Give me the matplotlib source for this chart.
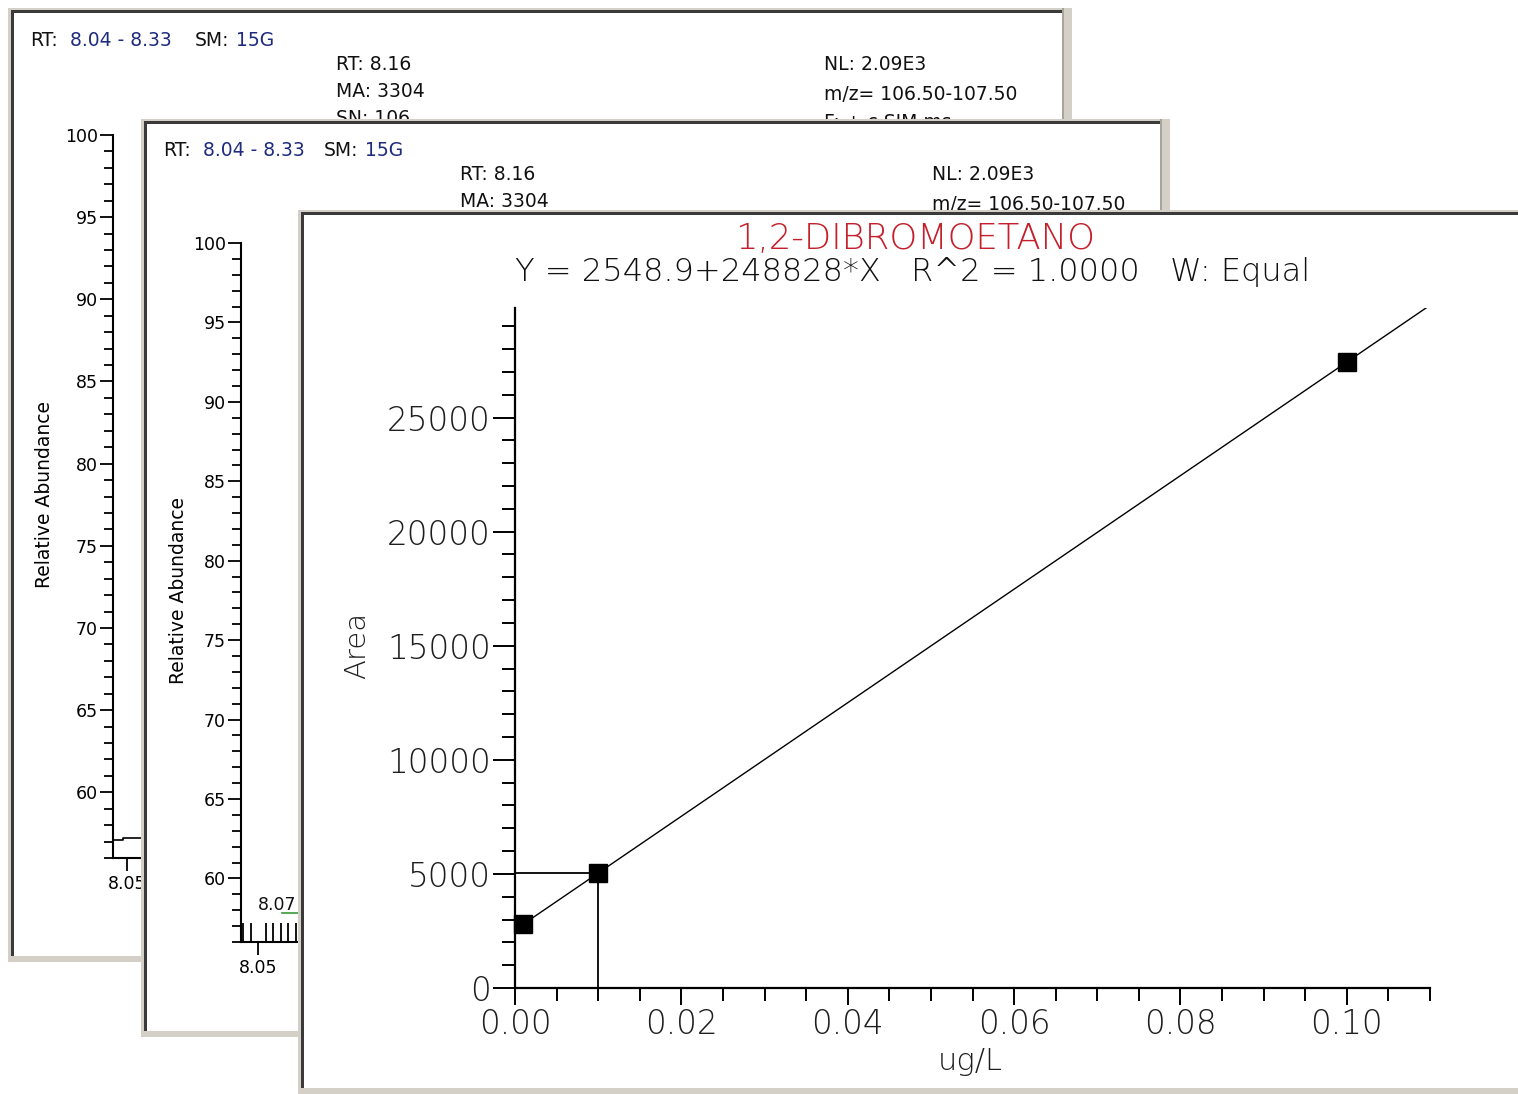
import numpy as np
import matplotlib
matplotlib.use("Agg")
import matplotlib.pyplot as plt
from matplotlib.patches import Rectangle
from matplotlib.ticker import MultipleLocator, FixedLocator

plt.rcParams['font.family'] = 'DejaVu Sans'

# chromatogram header values (same in both SIM windows)
rt_range = "8.04 - 8.33"
smoothing = "15G"
peak_rt = "8.16"
peak_area = "3304"
peak_sn = "106"
norm_level = "2.09E3"
mz_range = "106.50-107.50"
scan_filter = "F: + c SIM ms"

# visible pieces of the chromatogram traces
trace1_rt = [8.040, 8.047, 8.047, 8.065]
trace1_abund = [57.10, 57.10, 57.22, 57.22]
trace2_rt = [8.058, 8.085]
trace2_abund = [57.8, 57.8]
peak2_label = "8.07"
rt_ticks = [8.05]

# calibration curve
compound = "1,2-DIBROMOETANO"
intercept = 2548.9
slope = 248828
r_squared = 1.0000
weighting = "Equal"
conc = [0.001, 0.010, 0.100]
area = [2798, 5037, 27432]

W, H = 1518, 1094
GRAY = '#d4d0c8'
DARK = '#3a3a3a'
BLUE = '#1e2b7e'
RED = '#c41f2b'

fig = plt.figure(figsize=(W / 100, H / 100), dpi=100)
fig.patch.set_facecolor('white')


def px_rect(x0, y0, x1, y1):
    return [x0 / W, 1 - y1 / H, (x1 - x0) / W, (y1 - y0) / H]


def add_window(x0, y0, x1, y1, z, right=True):
    ax = fig.add_axes(px_rect(x0, y0, x1, y1), zorder=z)
    ax.set_xlim(x0, x1)
    ax.set_ylim(y1, y0)
    ax.axis('off')
    ax.add_patch(Rectangle((x0, y0), x1 - x0, y1 - y0, fc='white', ec='none'))
    # 3d style frame: light edge outside, dark line inside on top/left
    ax.add_patch(Rectangle((x0, y0), x1 - x0, 3, fc=GRAY, ec='none'))
    ax.add_patch(Rectangle((x0, y0), 3, y1 - y0, fc=GRAY, ec='none'))
    ax.add_patch(Rectangle((x0 + 3, y0 + 2), x1 - x0 - 3, 3, fc=DARK, ec='none'))
    ax.add_patch(Rectangle((x0 + 3, y0 + 2), 3, y1 - y0 - 2, fc=DARK, ec='none'))
    if right:
        ax.add_patch(Rectangle((x1 - 9, y0), 9, y1 - y0, fc=GRAY, ec='none'))
        ax.add_patch(Rectangle((x1 - 10, y0), 1.5, y1 - y0, fc='#a8a49c', ec='none'))
    ax.add_patch(Rectangle((x0, y1 - 6), x1 - x0, 6, fc=GRAY, ec='none'))
    return ax


def header(ax, x_rt, x_sm, y, x_left2, x_right2, y2):
    kw = dict(va='center', fontsize=13.5)
    ax.text(x_rt, y, "RT:", color='#111111', **kw)
    ax.text(x_rt + 40, y, rt_range, color=BLUE, **kw)
    ax.text(x_sm, y, "SM:", color='#111111', **kw)
    ax.text(x_sm + 41, y, smoothing, color=BLUE, **kw)
    for i, s in enumerate([f"RT: {peak_rt}", f"MA: {peak_area}", f"SN: {peak_sn}"]):
        ax.text(x_left2, y2 + i * 26.5, s, color='#111111', **kw)
    for i, s in enumerate([f"NL: {norm_level}", f"m/z= {mz_range}", scan_filter]):
        ax.text(x_right2, y2 + i * 29, s, color='#111111', **kw)


def chrom_axes(left, top, right, bottom, x_lim, z, minor_x=None):
    ax = fig.add_axes(px_rect(left, top, right, bottom), zorder=z)
    ax.patch.set_alpha(0)
    ax.set_xlim(*x_lim)
    ax.set_ylim(56, 100)
    for s in ('top', 'right'):
        ax.spines[s].set_visible(False)
    for s in ('left', 'bottom'):
        ax.spines[s].set_linewidth(1.5)
    ax.yaxis.set_major_locator(MultipleLocator(5))
    ax.yaxis.set_minor_locator(MultipleLocator(1))
    ax.xaxis.set_major_locator(FixedLocator(rt_ticks))
    if minor_x:
        ax.xaxis.set_minor_locator(MultipleLocator(minor_x))
        ax.tick_params(axis='x', which='minor', direction='in', length=14, width=1.3)
    ax.yaxis.set_major_formatter(lambda v, p: f"{v:.0f}")
    ax.xaxis.set_major_formatter(lambda v, p: f"{v:.2f}")
    ax.tick_params(axis='y', which='major', length=9.5, width=1.3, labelsize=12.5, pad=1.5)
    ax.tick_params(axis='y', which='minor', length=6.5, width=1.3)
    ax.tick_params(axis='x', which='major', length=9.5, width=1.3, labelsize=12.5, pad=3)
    return ax


# back window
win1 = add_window(8, 8, 1072, 962, 1)
header(win1, 30, 195, 40, 336, 824, 65)
win1.text(45, 495, "Relative Abundance", rotation=90, ha='center', va='center', fontsize=13.5)
ax1 = chrom_axes(113, 135, 519, 858, (8.04, 8.33), 2)
ax1.plot(trace1_rt, trace1_abund, color='black', lw=1.2)

# middle window
win2 = add_window(141, 119, 1170, 1037, 3)
header(win2, 163, 324, 151, 460, 932, 175)
win2.text(178, 590, "Relative Abundance", rotation=90, ha='center', va='center', fontsize=13.5)
win2.text(277, 905, peak2_label, ha='center', va='center', fontsize=12.5, color='#111111')
ax2 = chrom_axes(241, 243, 1098, 942, (8.04433, 8.33), 4, minor_x=0.0025)
ax2.plot(trace2_rt, trace2_abund, color='#3a9a3a', lw=1.2)

# front window: calibration curve
win3 = add_window(298, 210, 1530, 1094, 5, right=False)
win3.text(915, 239, compound, ha='center', va='center', fontsize=25.5, color=RED,
          fontweight=200)
equation = (f"Y = {intercept:.1f}+{slope:d}*X   R^2 = {r_squared:.4f}   "
            f"W: {weighting}")
win3.text(913, 272, equation, ha='center', va='center', fontsize=23, color='#111111',
          fontweight=200)
win3.text(357, 645, "Area", rotation=90, ha='center', va='center', fontsize=21,
          color='#1e1e1e', fontweight=200)
win3.text(970, 1062, "ug/L", ha='center', va='center', fontsize=22, color='#1e1e1e',
          fontweight=200)

ax3 = fig.add_axes(px_rect(515, 308, 1430, 988), zorder=6)
ax3.patch.set_alpha(0)
ax3.set_xlim(0, 0.11)
ax3.set_ylim(0, 29800)
for s in ('top', 'right'):
    ax3.spines[s].set_visible(False)
for s in ('left', 'bottom'):
    ax3.spines[s].set_linewidth(1.6)
ax3.xaxis.set_major_locator(MultipleLocator(0.02))
ax3.xaxis.set_minor_locator(MultipleLocator(0.005))
ax3.yaxis.set_major_locator(MultipleLocator(5000))
ax3.yaxis.set_minor_locator(MultipleLocator(1000))
ax3.xaxis.set_major_formatter(lambda v, p: f"{v:.2f}")
ax3.yaxis.set_major_formatter(lambda v, p: f"{v:.0f}")
ax3.tick_params(axis='y', which='major', length=16, width=1.4, labelsize=23.5,
                labelcolor='#1e1e1e', pad=1.5)
ax3.tick_params(axis='y', which='minor', length=9.5, width=1.4)
ax3.tick_params(axis='x', which='major', length=12.5, width=1.4, labelsize=23.5,
                labelcolor='#1e1e1e', pad=2)
ax3.tick_params(axis='x', which='minor', length=9, width=1.4)
for lab in ax3.get_xticklabels() + ax3.get_yticklabels():
    lab.set_fontweight(200)

fit_x = np.array([conc[0], 0.11])
ax3.plot(fit_x, intercept + slope * fit_x, color='black', lw=1.0, zorder=2)
# cursor lines to the selected standard
ax3.plot([0, conc[1]], [area[1], area[1]], color='black', lw=1.3, zorder=2)
ax3.plot([conc[1], conc[1]], [0, area[1]], color='black', lw=1.3, zorder=2)
ax3.plot(conc, area, linestyle='none', marker='s', markersize=13.5, color='black',
         zorder=3, clip_on=False)

fig.savefig("out.png", dpi=100, facecolor='white')
